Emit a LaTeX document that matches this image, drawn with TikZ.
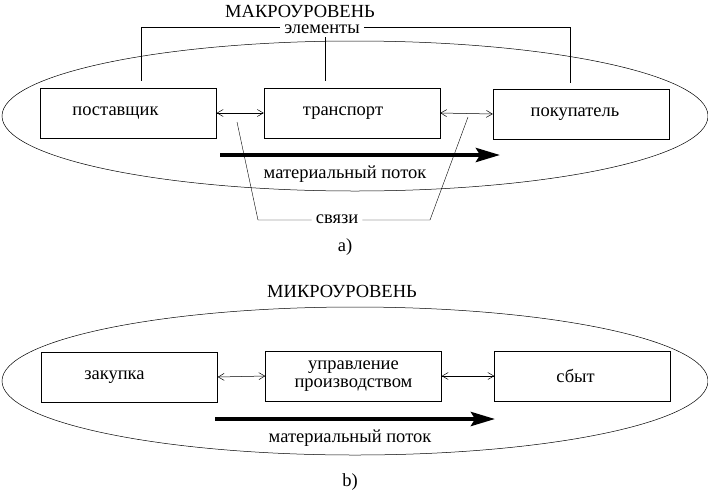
\documentclass[tikz,border=0pt]{standalone}
\usepackage{fontspec}
\setmainfont{Liberation Serif}
\usetikzlibrary{arrows.meta}

\tikzset{
	unit/.style={draw, minimum width=176pt, minimum height=50pt, inner sep=0pt, font=\fontsize{18.5}{21}\selectfont},
	nudge/.style={execute at begin node={\hspace*{-#1}}},
	lbl/.style={font=\fontsize{18.5}{21}\selectfont, inner sep=1pt, anchor=base},
	link/.style={{Straight Barb[length=6pt,width=7pt]}-{Straight Barb[length=6pt,width=7pt]}, line width=0.5pt},
	flow/.style={-{Stealth[length=24pt,width=14pt,inset=4pt]}, line width=4pt}
}

\begin{document}
\begin{tikzpicture}[x=1pt,y=-1pt]
	\useasboundingbox (0,0) rectangle (708,493);

	% macro level
	\draw[line width=0.5pt] (355,116) ellipse [x radius=353, y radius=75];
	\node[lbl, inner sep=0pt] (macro) at (300,17) {МАКРОУРОВЕНЬ};

	\node[unit, nudge=26pt] (sup) at (128.5,113) {поставщик};
	\node[unit, nudge=18pt] (tra) at (352,113) {транспорт};
	\node[unit, nudge=12pt] (buy) at (581,114) {покупатель};

	\draw[link] (sup.east) -- (tra.west);
	\draw[link] (tra.east) -- (buy.west);

	% elements
	\node[lbl, inner ysep=0pt, inner xsep=4pt] (elem) at (322,33) {элементы};
	\draw (elem.west |- 0,27) -| ([shift={(13,-7)}]sup.north);
	\coordinate (tratop) at ([yshift=7pt]tra.north);
	\draw (325,37) -- (325,0 |- tratop);
	\draw (elem.east |- 0,27) -| ([shift={(-11,-6)}]buy.north);

	% material flow
	\coordinate (fa1) at (220,155);
	\coordinate (fa2) at (500,155);
	\draw[flow] (fa1) -- (fa2);
	\node[lbl] (mfa) at (345,178) {материальный поток};

	% links
	\node[lbl, inner xsep=4pt] (ties) at (337,223) {связи};
	\coordinate (l1) at (237,122);
	\coordinate (l2) at (258,220);
	\coordinate (r1) at (468,117);
	\coordinate (r2) at (430,220);
	\draw (l1) -- (l2) -- (l2 -| ties.west);
	\draw (r1) -- (r2) -- (r2 -| ties.east);

	\node[lbl] (capa) at (345,251) {a)};

	% micro level
	\node[lbl] (micro) at (342,297) {МИКРОУРОВЕНЬ};
	\draw[line width=0.5pt] (355,381) ellipse [x radius=353, y radius=74];

	\node[unit, nudge=30pt] (buyin) at (129.5,377) {закупка};
	\node[unit, align=center] (prod) at (353.5,376) {управление\\[-3pt]производством};
	\node[unit, nudge=14pt] (sale) at (582.5,376) {сбыт};

	\draw[link] (buyin.east) -- (prod.west);
	\draw[link] (prod.east) -- (sale.west);

	% material flow
	\coordinate (fb1) at (215,419);
	\coordinate (fb2) at (495,419);
	\draw[flow] (fb1) -- (fb2);
	\node[lbl] (mfb) at (350,442) {материальный поток};

	\node[lbl] (capb) at (350,486) {b)};

\end{tikzpicture}
\end{document}
